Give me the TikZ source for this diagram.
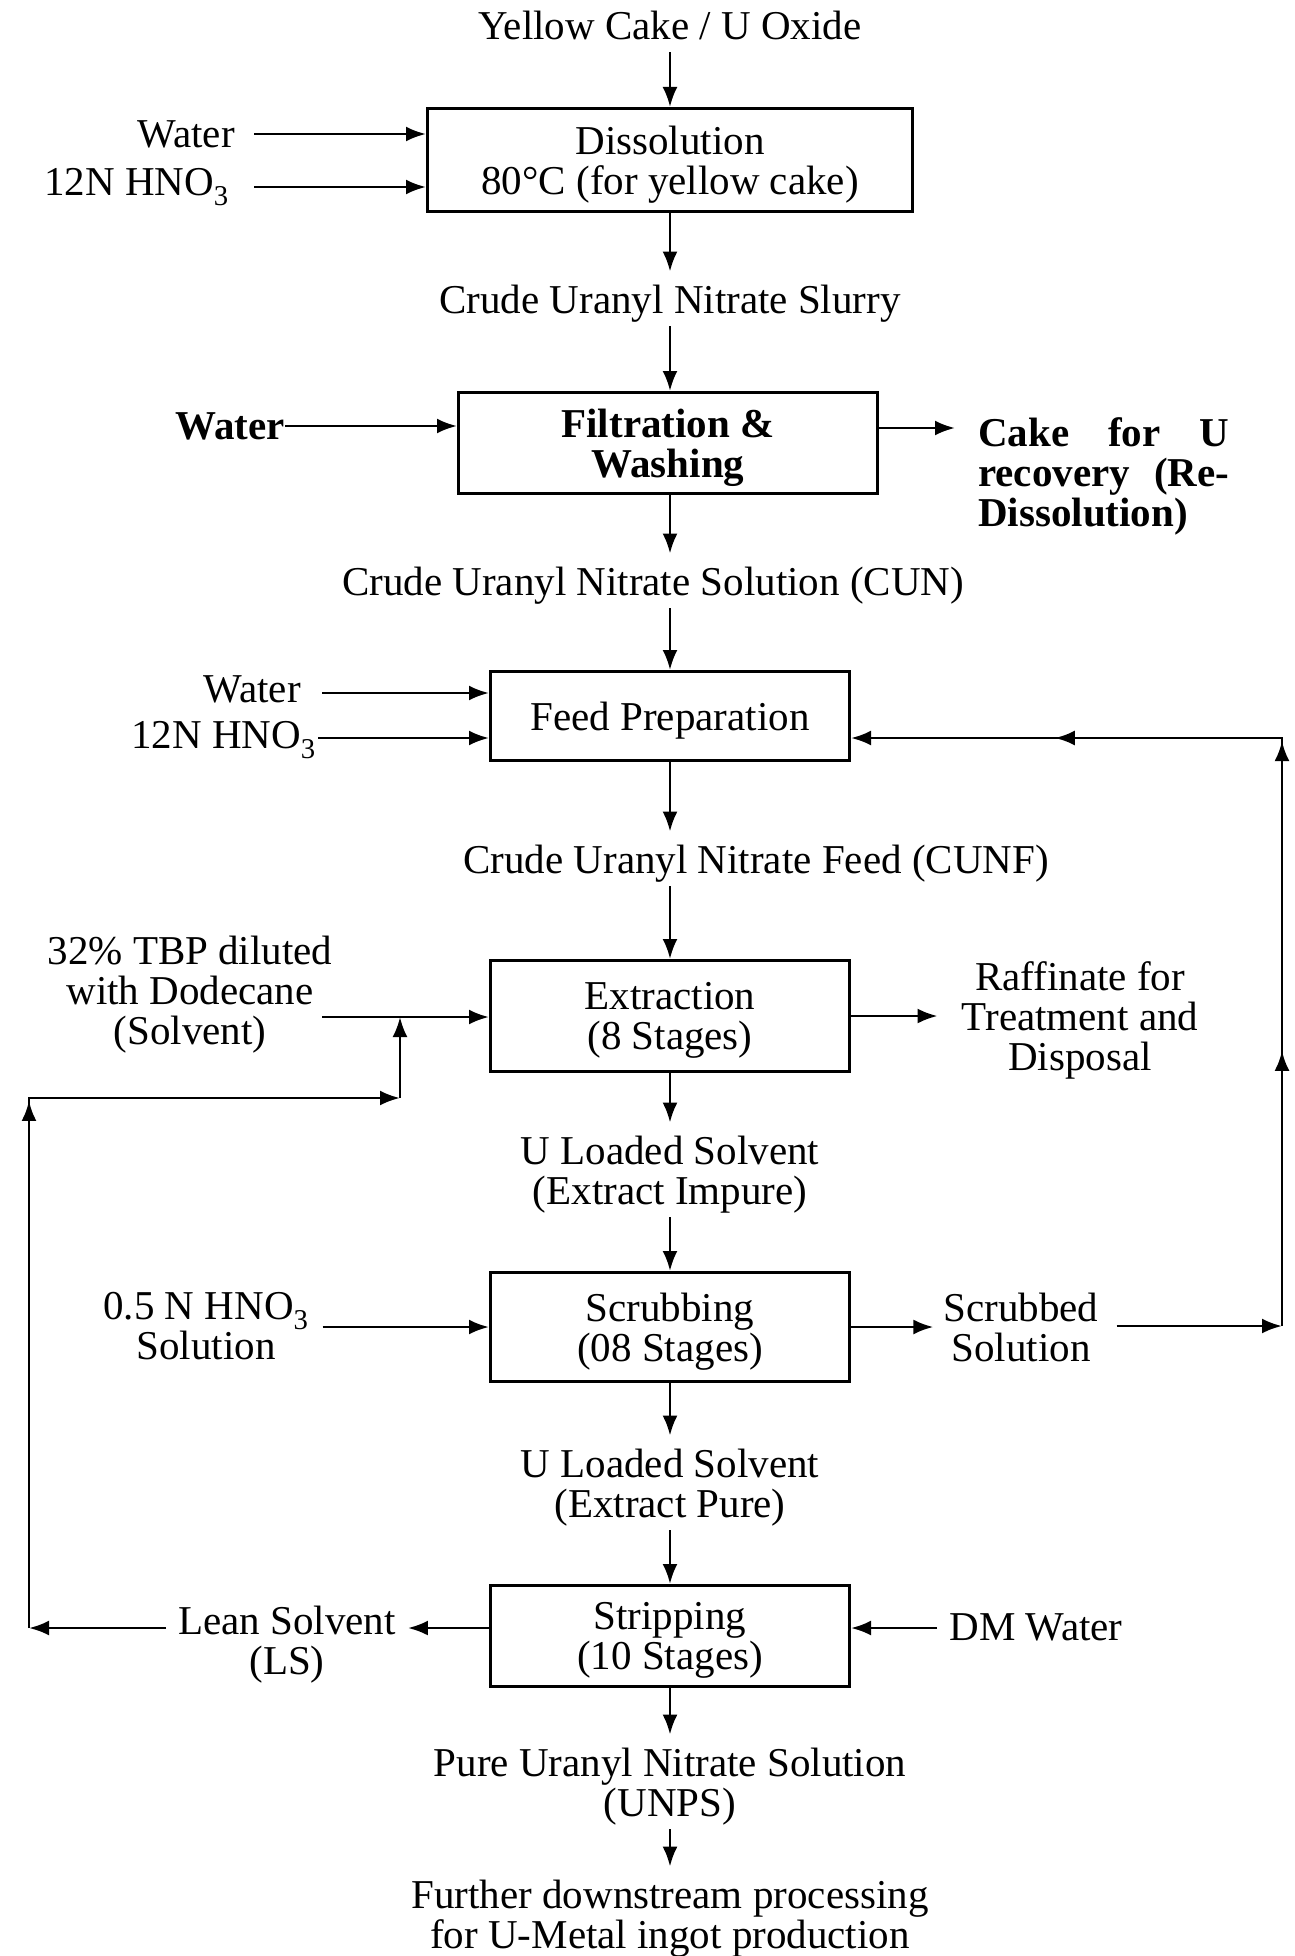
\documentclass[tikz,border=0pt]{standalone}
\usepackage{fontspec}
\setmainfont{Liberation Serif}
\usetikzlibrary{arrows.meta,decorations.markings}
\begin{document}
\begin{tikzpicture}[x=1pt,y=-1pt,
  every node/.style={font=\fontsize{41}{40}\selectfont},
  lbl/.style={inner sep=6pt, align=center},
  flow/.style={inner xsep=6pt, inner ysep=13pt, text depth=0pt, align=center},
  bf/.style={font=\fontsize{41}{40}\selectfont\bfseries},
  box/.style={draw, line width=3pt, inner sep=0pt, text depth=0pt, align=center, minimum width=359pt},
  arr/.style={line width=2.8pt, -{Latex[length=20pt,width=15pt]}},
  ln/.style={line width=2.8pt},
]
\useasboundingbox (0,0) rectangle (1294,1956);

% ---- Dissolution
\node[flow] (yc) at (670,25) {Yellow Cake / U Oxide};
\node[box, minimum width=485pt, minimum height=103pt] (diss) at (670,160) {Dissolution\\80°C (for yellow cake)};
\node[lbl, anchor=east, inner sep=2pt] (w1) at (237,134) {Water};
\node[lbl, anchor=east, inner sep=2pt] (n1) at (231,187) {12N HNO\textsubscript{3}};
\draw[arr, shorten <=17pt] (w1.east) -- (w1.east -| diss.west);
\draw[arr, shorten <=23pt] (n1.east) -- (n1.east -| diss.west);
\draw[arr] (yc) -- (diss);

% ---- Filtration
\node[flow] (sl) at (670,299) {Crude Uranyl Nitrate Slurry};
\draw[arr] (diss) -- (sl);
\node[box, bf, minimum width=419pt, minimum height=101pt] (filt) at (668,443) {Filtration \&\\Washing};
\draw[arr] (sl) -- (sl |- filt.north);
\node[lbl, bf, anchor=east, inner sep=0pt] (w2) at (285,426) {Water};
\draw[arr] (w2.east) -- (w2.east -| filt.west);
\node[bf, anchor=north west, inner sep=0pt, align=left] (cake) at (978,417)
  {\makebox[251pt][s]{Cake for U}\\\makebox[251pt][s]{recovery (Re-}\\Dissolution)};
\coordinate (cakein) at (955,428);
\draw[arr] (filt.east |- cakein) -- (cakein);

% ---- Feed preparation
\node[flow] (cun) at (653,581) {Crude Uranyl Nitrate Solution (CUN)};
\draw[arr] (filt.south -| diss) -- (diss |- cun.north);
\node[box, minimum height=89pt] (feed) at (670,716) {Feed Preparation};
\draw[arr] (cun.south -| feed) -- (feed.north);
\node[lbl, anchor=east, inner sep=2pt] (w3) at (303,689) {Water};
\node[lbl, anchor=east, inner sep=2pt] (n3) at (318,740) {12N HNO\textsubscript{3}};
\draw[arr, shorten <=19pt] (w3.east |- 0,693) -- (feed.west |- 0,693);
\draw[arr] (n3.east |- 0,738) -- (feed.west |- 0,738);

% ---- Extraction
\node[flow] (cunf) at (756,859) {Crude Uranyl Nitrate Feed (CUNF)};
\draw[arr] (feed.south) -- (feed.south |- cunf.north);
\node[box, minimum height=111pt] (ext) at (670,1016) {Extraction\\(8 Stages)};
\draw[arr] (cunf.south -| ext) -- (ext.north);
\node[lbl, inner sep=2pt] (tbp) at (190,995) {32\% TBP diluted\\with Dodecane\\(Solvent)};
\coordinate (tbpout) at (322,1017);
\draw[arr] (tbpout) -- (tbpout -| ext.west);
\node[lbl, inner sep=2pt] (raf) at (1080,1020) {Raffinate for\\Treatment and\\Disposal};
\draw[arr, shorten >=22pt] (ext.east) -- (ext.east -| raf.west);

% ---- Scrubbing
\node[flow] (imp) at (670,1170) {U Loaded Solvent\\(Extract Impure)};
\draw[arr] (ext.south) -- (ext.south |- imp.north);
\node[box, minimum height=109pt] (scr) at (670,1327) {Scrubbing\\(08 Stages)};
\draw[arr] (imp.south) -- (scr.north);
\node[lbl, inner sep=2pt] (n5) at (206,1326) {0.5 N HNO\textsubscript{3}\\Solution};
\draw[arr, shorten <=12pt] (n5.east |- scr) -- (scr.west);
\node[lbl, inner sep=2pt] (sb) at (1021,1327) {Scrubbed\\Solution};
\draw[arr, shorten >=8pt] (scr.east) -- (sb.west |- scr);

% recycle of scrubbed solution to feed preparation
\coordinate (rb) at (1282,1326);
\coordinate (rt) at (1282,738);
\draw[arr, shorten <=16pt] (sb.east |- rb) -- (rb);
\draw[ln, -{Latex[length=20pt,width=15pt]},
  decoration={markings,
    mark=at position 0.27 with {\arrow{Latex[length=20pt,width=15pt]}},
    mark=at position 0.574 with {\arrow{Latex[length=20pt,width=15pt]}},
    mark=at position 0.80 with {\arrow{Latex[length=20pt,width=15pt]}}},
  postaction=decorate]
  (rb) -- (rt) -- (feed.east |- rt);

% ---- Stripping
\node[flow] (pure) at (670,1483) {U Loaded Solvent\\(Extract Pure)};
\draw[arr] (scr.south) -- (scr.south |- pure.north);
\node[box, minimum height=101pt] (str) at (670,1636) {Stripping\\(10 Stages)};
\draw[arr] (pure.south) -- (str.north);
\node[lbl, inner sep=2pt] (dm) at (1036,1627) {DM Water};
\draw[arr, shorten <=10pt] (dm.west |- 0,1628) -- (str.east |- 0,1628);
\node[lbl, inner sep=2pt] (lean) at (287,1645) {Lean Solvent\\(LS)};
\coordinate (ll) at (29,1628);
\draw[arr, shorten >=10pt] (str.west |- ll) -- (lean.east |- ll);
\draw[arr, shorten <=10pt] (lean.west |- ll) -- (ll);

% lean solvent recycled to the extraction solvent inlet
\coordinate (lt) at (29,1098);
\coordinate (lj) at (400,1098);
\draw[ln, -{Latex[length=20pt,width=15pt]},
  decoration={markings,
    mark=at position 0.585 with {\arrow{Latex[length=20pt,width=15pt]}}},
  postaction=decorate]
  (ll) -- (lt) -- (lj);
\draw[arr] (lj) -- (lj |- tbpout);

% ---- Product
\node[flow] (unps) at (670,1782) {Pure Uranyl Nitrate Solution\\(UNPS)};
\draw[arr] (str.south) -- (str.south |- unps.north);
\node[flow] (fur) at (670,1914) {Further downstream processing\\for U-Metal ingot production};
\draw[arr] (unps.south) -- (fur.north);
\end{tikzpicture}
\end{document}
